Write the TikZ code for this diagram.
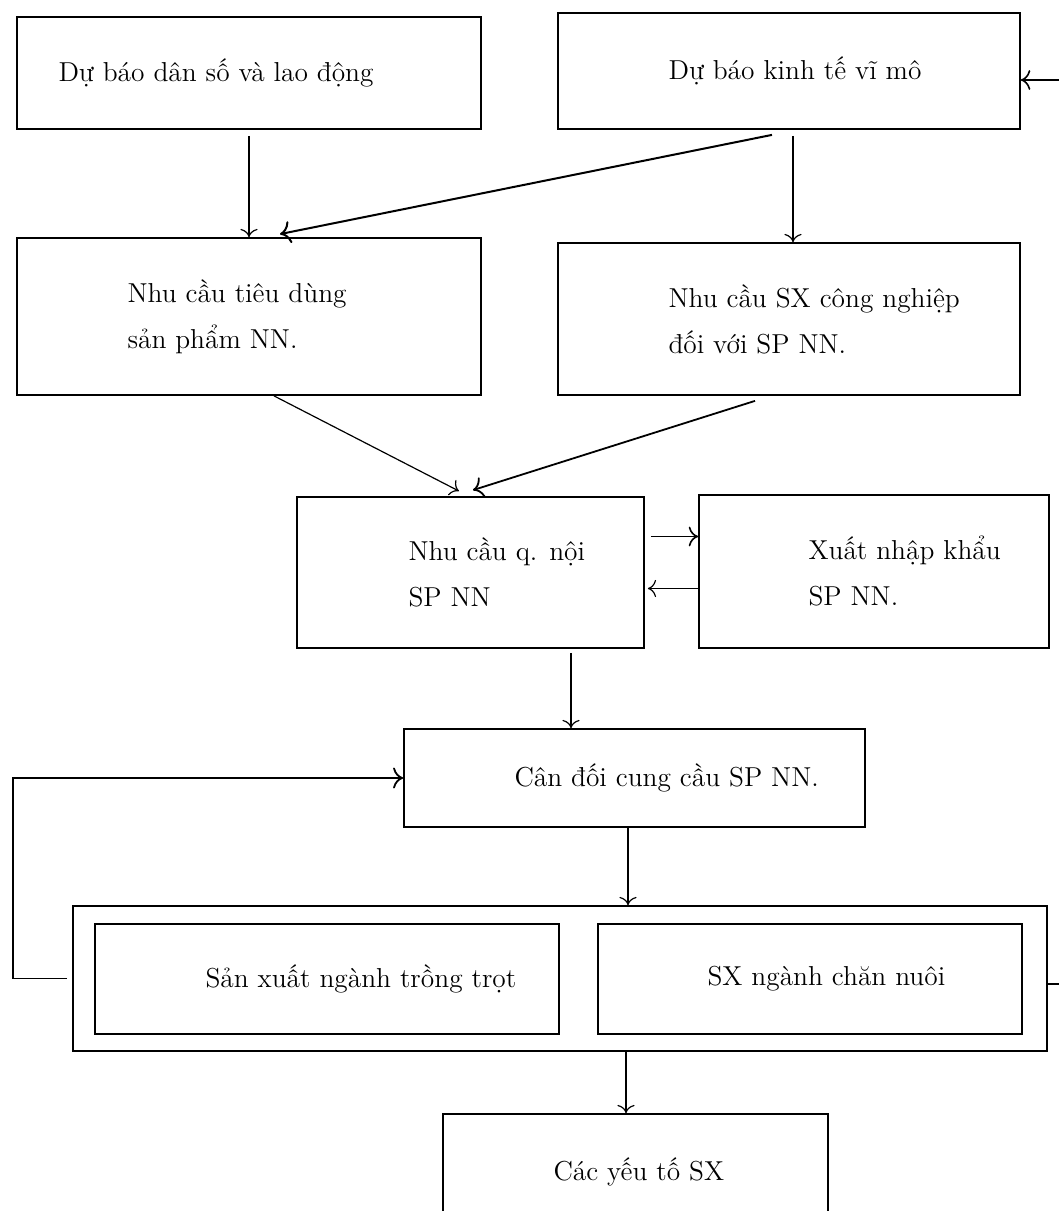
\documentclass[tikz,border=0pt]{standalone}
\usepackage{fontspec}
\usetikzlibrary{positioning, arrows.meta}
\begin{document}
\begin{tikzpicture}[x=5pt, y=5pt, >={To[scale=1.4]},
  box/.style={draw, line width=0.9pt, inner sep=0pt},
  txt/.style={inner sep=0pt, align=left, font=\fontsize{13.7}{23}\selectfont},
  link/.style={->, line width=0.6pt}]
\useasboundingbox (0,0) rectangle (105.9,121.1);
%
\draw(24.9,113.8) node[box, minimum width=232pt, minimum height=56pt](population){};
\node[txt, right=21pt of population.west](population-txt){Dự báo dân số và lao động};
%
\draw(78.9,114.0) node[box, minimum width=231pt, minimum height=58pt](macro){};
\node[txt, right=55.5pt of macro.west](macro-txt){Dự báo kinh tế vĩ mô};
\coordinate (feedin) at (105.9,113.1);
\draw[link, line width=0.8pt] (feedin) -- (macro.east |- feedin);
%
\draw(24.9,89.45) node[box, minimum width=232pt, minimum height=78.5pt](consume){};
\node[txt, right=55.5pt of consume.west](consume-txt){Nhu cầu tiêu dùng\\sản phẩm NN.};
\draw[link, shorten <=3pt] (population) -- (consume);
\draw[link, line width=1pt] ([xshift=-8.5pt, yshift=-2.5pt] macro.south) --
  ([xshift=15.5pt, yshift=1.5pt] consume.north);
%
\draw(78.9,89.2) node[box, minimum width=231pt, minimum height=76pt](industry){};
\node[txt, right=55.5pt of industry.west](industry-txt){Nhu cầu SX công nghiệp\\đối với SP NN.};
\draw[link] ([xshift=2pt, yshift=-3pt] macro.south) -- ([xshift=2pt] industry.north);
%
\draw(47.05,63.85) node[box, minimum width=173.5pt, minimum height=75.5pt](domestic){};
\node[txt, right=56pt of domestic.west](domestic-txt){Nhu cầu q. nội\\SP NN};
\draw[link] ([xshift=12.5pt] consume.south) -- ([xshift=-5.75pt, yshift=2.5pt] domestic.north);
\draw[link, line width=0.9pt] ([xshift=-17pt, yshift=-2.5pt] industry.south) --
  ([xshift=1.25pt, yshift=3pt] domestic.north);
%
\draw(87.4,63.95) node[box, minimum width=175pt, minimum height=76.5pt](trade){};
\node[txt, right=55pt of trade.west](trade-txt){Xuất nhập khẩu\\SP NN.};
\draw[link, line width=0.8pt, shorten <=3pt] ([yshift=18pt] domestic.east) -- ([yshift=18pt] domestic.east -| trade.west);
\draw[link, shorten >=1.5pt] ([yshift=-8pt] domestic.east -| trade.west) -- ([yshift=-8pt] domestic.east);
%
\draw(63.45,43.3) node[box, minimum width=230.5pt, minimum height=49pt](balance){};
\node[txt, right=55.5pt of balance.west](balance-txt){Cân đối cung cầu SP NN.};
\draw[link] ([xshift=50.25pt, yshift=-2pt] domestic.south) --
  ([xshift=50.25pt] domestic.south |- balance.north);
%
\draw(56.0,23.25) node[box, minimum width=487pt, minimum height=72.5pt](output){};
\draw(32.7,23.2) node[box, minimum width=232pt, minimum height=55pt](crops){};
\node[txt, right=55.5pt of crops.west](crops-txt){Sản xuất ngành trồng trọt};
\draw(81.0,23.2) node[box, minimum width=212pt, minimum height=55pt](livestock){};
\node[txt, right=55pt of livestock.west](livestock-txt){SX ngành chăn nuôi};
\draw[link] ([xshift=-3.25pt] balance.south) -- ([xshift=-3.25pt] balance.south |- output.north);
\draw[link, line width=0.9pt] ([xshift=-2.5pt] output.west) -- ++(-27pt,0) |- (balance.west);
\coordinate (feedout) at (105.9,22.7);
\draw[line width=0.9pt] (output.east |- feedout) -- (feedout);
%
\draw(63.55,3.95) node[box, minimum width=192.5pt, minimum height=57.5pt](factors){};
\node[txt, right=55.5pt of factors.west](factors-txt){Các yếu tố SX};
\draw[link] ([xshift=-4.75pt] factors.north |- output.south) -- ([xshift=-4.75pt] factors.north);
\end{tikzpicture}
\end{document}
